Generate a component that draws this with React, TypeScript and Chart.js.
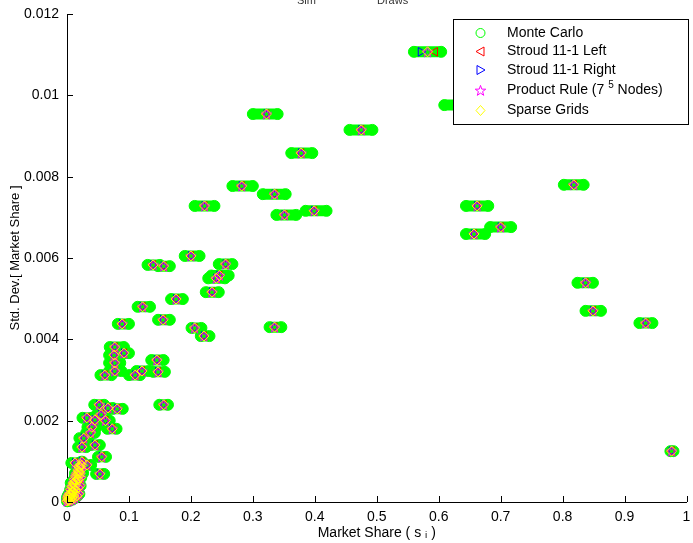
import { useEffect, useRef } from 'react';
import { Chart, registerables } from 'chart.js';

Chart.register(...registerables);

// ---------------- DATA ----------------
const seriesNames = ['Monte Carlo', 'Stroud 11-1 Left', 'Stroud 11-1 Right', 'Product Rule (7^5 Nodes)', 'Sparse Grids'];

const xTickValues = [0, 0.1, 0.2, 0.3, 0.4, 0.5, 0.6, 0.7, 0.8, 0.9, 1];
const xTickLabels = ['0', '0.1', '0.2', '0.3', '0.4', '0.5', '0.6', '0.7', '0.8', '0.9', '1'];
const yTickValues = [0, 0.002, 0.004, 0.006, 0.008, 0.01, 0.012];
const yTickLabels = ['0', '0.002', '0.004', '0.006', '0.008', '0.01', '0.012'];

// quadrature estimate of market share (centre of each product's cluster)
const quadShare = [
  0.582, 0.636, 0.322, 0.475, 0.378, 0.282, 0.335, 0.222, 0.351, 0.399,
  0.818, 0.662, 0.700, 0.657, 0.837, 0.849, 0.934, 0.976, 0.200, 0.139,
  0.156, 0.256, 0.246, 0.241, 0.234, 0.176, 0.122, 0.155, 0.089, 0.206,
  0.221, 0.335, 0.077, 0.076, 0.092, 0.077, 0.077, 0.061, 0.110, 0.121,
  0.147, 0.145, 0.156, 0.052, 0.066, 0.081, 0.032, 0.045, 0.040, 0.073,
  0.027, 0.045, 0.024, 0.056, 0.032, 0.013, 0.053, 0.019, 0.011, 0.055,
  0.062, 0.038,
  0.002, 0.003, 0.004, 0.005, 0.006, 0.007, 0.008, 0.009, 0.010, 0.011,
  0.012, 0.013, 0.014, 0.015, 0.016, 0.017, 0.018, 0.019, 0.020, 0.021,
  0.022, 0.024, 0.003, 0.008, 0.012,
  0.000, 0.001, 0.004, 0.008, 0.012, 0.016, 0.019, 0.006, 0.010, 0.014,
  0.018, 0.021, 0.009, 0.013, 0.017, 0.022, 0.015, 0.019, 0.023, 0.020,
  0.024, 0.002, 0.005, 0.011,
];
// std. dev. of market share
const stdDev = [
  0.01107, 0.00976, 0.00954, 0.00915, 0.00858, 0.00777, 0.00757, 0.00728, 0.00706, 0.00716,
  0.00780, 0.00728, 0.00676, 0.00659, 0.00539, 0.00470, 0.00440, 0.00125, 0.00605, 0.00583,
  0.00580, 0.00585, 0.00557, 0.00550, 0.00516, 0.00499, 0.00480, 0.00448, 0.00438, 0.00428,
  0.00408, 0.00430, 0.00381, 0.00361, 0.00366, 0.00342, 0.00322, 0.00312, 0.00312, 0.00322,
  0.00320, 0.00349, 0.00239, 0.00239, 0.00231, 0.00229, 0.00207, 0.00202, 0.00184, 0.00180,
  0.00157, 0.00140, 0.00135, 0.00111, 0.00091, 0.00096, 0.00069, 0.00071, 0.00047, 0.00215,
  0.00200, 0.00170,
  0.00005, 0.00012, 0.00020, 0.00008, 0.00030, 0.00018, 0.00038, 0.00026, 0.00046, 0.00033,
  0.00055, 0.00040, 0.00062, 0.00048, 0.00070, 0.00056, 0.00078, 0.00064, 0.00086, 0.00070,
  0.00092, 0.00099, 0.00003, 0.00010, 0.00022,
  0.00002, 0.00010, 0.00005, 0.00006, 0.00010, 0.00015, 0.00020, 0.00020, 0.00025, 0.00030,
  0.00035, 0.00040, 0.00038, 0.00050, 0.00055, 0.00060, 0.00065, 0.00075, 0.00080, 0.00088,
  0.00090, 0.00015, 0.00013, 0.00015,
];
// spread of the Monte Carlo share estimates (lowest / highest)
const mcShareLow = [
  0.560, 0.609, 0.300, 0.456, 0.362, 0.267, 0.316, 0.206, 0.338, 0.385,
  0.802, 0.644, 0.683, 0.644, 0.824, 0.837, 0.924, 0.974, 0.190, 0.130,
  0.147, 0.245, 0.233, 0.228, 0.224, 0.168, 0.114, 0.147, 0.082, 0.201,
  0.216, 0.327, 0.069, 0.068, 0.085, 0.068, 0.068, 0.054, 0.100, 0.112,
  0.139, 0.136, 0.149, 0.044, 0.058, 0.074, 0.025, 0.038, 0.033, 0.065,
  0.020, 0.038, 0.018, 0.050, 0.026, 0.007, 0.047, 0.013, 0.006, 0.048,
  0.055, 0.031,
  0.001, 0.002, 0.003, 0.004, 0.005, 0.006, 0.007, 0.008, 0.009, 0.010,
  0.011, 0.012, 0.013, 0.014, 0.015, 0.016, 0.017, 0.018, 0.019, 0.020,
  0.021, 0.023, 0.002, 0.007, 0.011,
  0.000, 0.000, 0.003, 0.007, 0.011, 0.015, 0.018, 0.005, 0.009, 0.013,
  0.017, 0.020, 0.008, 0.012, 0.016, 0.021, 0.014, 0.018, 0.022, 0.019,
  0.023, 0.001, 0.004, 0.010,
];
const mcShareHigh = [
  0.604, 0.662, 0.340, 0.493, 0.396, 0.300, 0.353, 0.238, 0.370, 0.419,
  0.834, 0.680, 0.717, 0.675, 0.849, 0.862, 0.945, 0.979, 0.214, 0.150,
  0.166, 0.267, 0.261, 0.255, 0.245, 0.187, 0.134, 0.166, 0.100, 0.217,
  0.230, 0.346, 0.092, 0.088, 0.100, 0.086, 0.088, 0.072, 0.118, 0.132,
  0.158, 0.156, 0.163, 0.060, 0.074, 0.090, 0.040, 0.053, 0.048, 0.080,
  0.035, 0.053, 0.031, 0.063, 0.039, 0.019, 0.060, 0.026, 0.017, 0.062,
  0.069, 0.045,
  0.003, 0.004, 0.005, 0.006, 0.007, 0.008, 0.009, 0.010, 0.011, 0.012,
  0.013, 0.014, 0.015, 0.016, 0.017, 0.018, 0.019, 0.020, 0.021, 0.022,
  0.023, 0.025, 0.004, 0.009, 0.013,
  0.001, 0.002, 0.005, 0.009, 0.013, 0.017, 0.020, 0.007, 0.011, 0.015,
  0.019, 0.022, 0.010, 0.014, 0.018, 0.023, 0.016, 0.020, 0.024, 0.021,
  0.025, 0.003, 0.006, 0.012,
];
// Stroud rules differ visibly only for the top product
const stroudLeftShare = quadShare.map((v, i) => (i === 0 ? 0.594 : v));
const stroudRightShare = quadShare.map((v, i) => (i === 0 ? 0.571 : v));

const titleParts = ['Sim', 'Draws'];
const xTitle = 'Market Share ( s ᵢ )';
const yTitle = 'Std. Dev.[ Market Share ]';

// ---------------- STYLE ----------------
const FONT = '"Liberation Sans", Arial, Helvetica, sans-serif';
const GREEN = '#00ff00';
const RED = '#ff0000';
const BLUE = '#0000ff';
const MAGENTA = '#ff00ff';
const YELLOW = '#ffff00';

function makeStar(): HTMLCanvasElement {
  const c = document.createElement('canvas');
  c.width = 13;
  c.height = 13;
  const g = c.getContext('2d')!;
  g.strokeStyle = MAGENTA;
  g.lineWidth = 1;
  g.beginPath();
  for (let k = 0; k < 10; k++) {
    const r = k % 2 === 0 ? 5.5 : 2.2;
    const a = -Math.PI / 2 + (k * Math.PI) / 5;
    const px = 6.5 + r * Math.cos(a);
    const py = 6.9 + r * Math.sin(a);
    if (k === 0) g.moveTo(px, py);
    else g.lineTo(px, py);
  }
  g.closePath();
  g.stroke();
  return c;
}

function drawMarker(ctx: CanvasRenderingContext2D, kind: number, x: number, y: number, star: HTMLCanvasElement) {
  ctx.save();
  ctx.lineWidth = 1;
  ctx.beginPath();
  if (kind === 0) {
    ctx.strokeStyle = GREEN;
    ctx.arc(x, y, 4.5, 0, Math.PI * 2);
    ctx.stroke();
  } else if (kind === 1) {
    ctx.strokeStyle = RED;
    ctx.moveTo(x - 4.5, y);
    ctx.lineTo(x + 3.5, y - 4.5);
    ctx.lineTo(x + 3.5, y + 4.5);
    ctx.closePath();
    ctx.stroke();
  } else if (kind === 2) {
    ctx.strokeStyle = BLUE;
    ctx.moveTo(x + 4.5, y);
    ctx.lineTo(x - 3.5, y - 4.5);
    ctx.lineTo(x - 3.5, y + 4.5);
    ctx.closePath();
    ctx.stroke();
  } else if (kind === 3) {
    ctx.drawImage(star, Math.round(x - 6.5), Math.round(y - 6.5));
  } else {
    ctx.strokeStyle = YELLOW;
    ctx.moveTo(x, y - 5);
    ctx.lineTo(x + 4.5, y);
    ctx.lineTo(x, y + 5);
    ctx.lineTo(x - 4.5, y);
    ctx.closePath();
    ctx.stroke();
  }
  ctx.restore();
}

export default function App() {
  const ref = useRef<HTMLCanvasElement | null>(null);

  useEffect(() => {
    document.body.style.margin = '0';
    const canvas = ref.current;
    if (!canvas) return;
    const star = makeStar();

    const n = quadShare.length;
    const mcLine: any[] = [];
    const mcEnds: any[] = [];
    for (let i = 0; i < n; i++) {
      mcLine.push({ x: mcShareLow[i], y: stdDev[i] });
      mcLine.push({ x: mcShareHigh[i], y: stdDev[i] });
      mcLine.push({ x: mcShareHigh[i], y: null });
      mcEnds.push({ x: mcShareLow[i], y: stdDev[i] });
      mcEnds.push({ x: mcShareHigh[i], y: stdDev[i] });
    }
    const pts = (xs: number[]) => xs.map((x, i) => ({ x, y: stdDev[i] }));

    const inwardTicks = {
      id: 'inwardTicks',
      afterDatasetsDraw(chart: any) {
        const { ctx, chartArea, scales } = chart;
        ctx.save();
        ctx.strokeStyle = '#000';
        ctx.lineWidth = 1;
        ctx.beginPath();
        for (const v of xTickValues) {
          const px = Math.round(scales.x.getPixelForValue(v)) + 0.5;
          ctx.moveTo(px, chartArea.bottom);
          ctx.lineTo(px, chartArea.bottom - 6);
        }
        for (const v of yTickValues) {
          const py = Math.round(scales.y.getPixelForValue(v)) + 0.5;
          ctx.moveTo(chartArea.left, py);
          ctx.lineTo(chartArea.left + 6, py);
        }
        ctx.stroke();
        ctx.restore();
      },
    };

    const legendBox = {
      id: 'legendBox',
      afterDraw(chart: any) {
        const ctx: CanvasRenderingContext2D = chart.ctx;
        const bx = 453.5, by = 19.5, bw = 235, bh = 105;
        ctx.save();
        ctx.fillStyle = '#ffffff';
        ctx.fillRect(bx, by, bw, bh);
        ctx.strokeStyle = '#000';
        ctx.lineWidth = 1;
        ctx.strokeRect(bx, by, bw, bh);
        const rows = [33, 51.5, 70, 90.5, 110.5];
        ctx.fillStyle = '#000';
        ctx.textBaseline = 'middle';
        ctx.textAlign = 'left';
        seriesNames.forEach((name, k) => {
          drawMarker(ctx, k, 480.5, rows[k], star);
          const parts = name.split('^');
          ctx.font = `14px ${FONT}`;
          if (parts.length === 1) {
            ctx.fillText(name, 507, rows[k]);
          } else {
            const first = parts[0] + ' ';
            ctx.fillText(first, 507, rows[k]);
            let x = 507 + ctx.measureText(first).width;
            const sup = parts[1].charAt(0);
            const rest = parts[1].slice(1);
            ctx.font = `10px ${FONT}`;
            ctx.fillText(sup, x, rows[k] - 5);
            x += ctx.measureText(sup).width;
            ctx.font = `14px ${FONT}`;
            ctx.fillText(rest, x, rows[k]);
          }
        });
        ctx.restore();
      },
    };

    const topTitle = {
      id: 'topTitle',
      afterDraw(chart: any) {
        const ctx: CanvasRenderingContext2D = chart.ctx;
        ctx.save();
        ctx.fillStyle = '#333';
        ctx.font = `11px ${FONT}`;
        ctx.textBaseline = 'alphabetic';
        ctx.textAlign = 'left';
        ctx.fillText(titleParts[0], 297, 4);
        ctx.fillText(titleParts[1], 377, 4);
        ctx.restore();
      },
    };

    const chart = new Chart(canvas, {
      type: 'scatter',
      data: {
        datasets: [
          {
            label: seriesNames[0] + ' spread',
            data: mcLine,
            showLine: true,
            spanGaps: false,
            borderColor: GREEN,
            backgroundColor: GREEN,
            borderWidth: 11,
            borderCapStyle: 'round',
            borderJoinStyle: 'round',
            pointRadius: 0,
            order: 10,
            clip: false,
          } as any,
          {
            label: seriesNames[0],
            data: mcEnds,
            pointStyle: 'circle',
            pointRadius: 5.5,
            borderWidth: 1,
            borderColor: GREEN,
            backgroundColor: 'rgba(0,0,0,0)',
            order: 9,
            clip: false,
          } as any,
          {
            label: seriesNames[1],
            data: pts(stroudLeftShare),
            pointStyle: 'triangle',
            rotation: -90,
            pointRadius: 5,
            borderWidth: 1,
            borderColor: RED,
            backgroundColor: 'rgba(0,0,0,0)',
            order: 4,
            clip: false,
          } as any,
          {
            label: seriesNames[2],
            data: pts(stroudRightShare),
            pointStyle: 'triangle',
            rotation: 90,
            pointRadius: 5,
            borderWidth: 1,
            borderColor: BLUE,
            backgroundColor: 'rgba(0,0,0,0)',
            order: 3,
            clip: false,
          } as any,
          {
            label: seriesNames[3],
            data: pts(quadShare),
            pointStyle: star,
            pointRadius: 5,
            borderWidth: 1,
            borderColor: MAGENTA,
            backgroundColor: 'rgba(0,0,0,0)',
            order: 2,
            clip: false,
          } as any,
          {
            label: seriesNames[4],
            data: pts(quadShare),
            pointStyle: 'rectRot',
            pointRadius: 5,
            borderWidth: 1,
            borderColor: YELLOW,
            backgroundColor: 'rgba(0,0,0,0)',
            order: 1,
            clip: false,
          } as any,
        ],
      },
      options: {
        animation: false,
        responsive: false,
        devicePixelRatio: 1,
        events: [],
        layout: { padding: { top: 14, right: 5, left: 0, bottom: 0 } },
        plugins: {
          legend: { display: false },
          tooltip: { enabled: false },
          title: { display: false },
        },
        scales: {
          x: {
            type: 'linear',
            min: 0,
            max: 1,
            afterBuildTicks: (s: any) => {
              s.ticks = xTickValues.map((v) => ({ value: v }));
            },
            afterFit: (s: any) => {
              s.height = 41;
              s.paddingLeft = 0;
              s.paddingRight = 0;
            },
            ticks: {
              callback: (_v: any, i: number) => xTickLabels[i],
              padding: 7,
              maxRotation: 0,
              autoSkip: false,
              color: '#000',
              font: { family: FONT, size: 14 },
            },
            grid: { display: false, drawTicks: false },
            border: { display: true, color: '#000', width: 1 },
            title: {
              display: true,
              text: xTitle,
              color: '#000',
              font: { family: FONT, size: 14 },
              padding: { top: 0, bottom: 1 },
            },
          },
          y: {
            type: 'linear',
            min: 0,
            max: 0.012,
            afterBuildTicks: (s: any) => {
              s.ticks = yTickValues.map((v) => ({ value: v }));
            },
            afterFit: (s: any) => {
              s.width = 67;
              s.paddingTop = 0;
              s.paddingBottom = 0;
            },
            ticks: {
              callback: (_v: any, i: number) => yTickLabels[i],
              padding: 8,
              autoSkip: false,
              color: '#000',
              font: { family: FONT, size: 14 },
            },
            grid: { display: false, drawTicks: false },
            border: { display: true, color: '#000', width: 1 },
            title: {
              display: true,
              text: yTitle,
              color: '#000',
              font: { family: FONT, size: 13 },
              padding: { top: 8, bottom: 0 },
            },
          },
        },
      } as any,
      plugins: [inwardTicks, legendBox, topTitle],
    });

    return () => chart.destroy();
  }, []);

  return (
    <div style={{ width: 693, height: 543, background: '#fff' }}>
      <canvas ref={ref} width={693} height={543} style={{ display: 'block' }} />
    </div>
  );
}
